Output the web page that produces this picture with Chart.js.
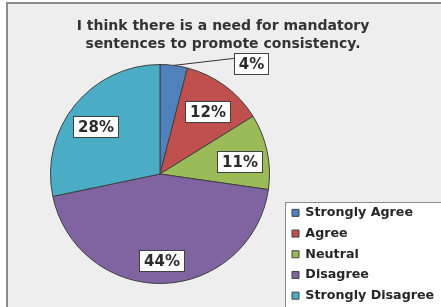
<!DOCTYPE html>
<html>
<head>
<meta charset="utf-8">
<script src="https://cdn.jsdelivr.net/npm/chart.js@4.4.1/dist/chart.umd.min.js"></script>
<style>
  html, body { margin: 0; padding: 0; background: #fff; overflow: hidden; }
  canvas { display: block; }
</style>
</head>
<body>
<!-- a few pixels taller than the window: the frame and legend box run off the bottom edge -->
<canvas id="myChart" width="441" height="310"></canvas>
<script>
// data for the chart
var categories = ['Strongly Agree', 'Agree', 'Neutral', 'Disagree', 'Strongly Disagree'];
var percents = [4, 12, 11, 44, 28];
var titleLines = ['I think there is a need for mandatory', 'sentences to promote consistency.'];
var sliceColors = ['#4f81bd', '#c0504d', '#9bbb59', '#8064a2', '#4bacc6'];

var FONT = '"DejaVu Sans", Verdana, sans-serif';

// grey frame and the white legend box, drawn behind everything
const backdrop = {
    id: 'backdrop',
    beforeDraw: function (chart) {
        var ctx = chart.ctx;
        var lg = chart.legend;
        ctx.save();
        ctx.fillStyle = '#ffffff';
        ctx.fillRect(0, 0, chart.width, chart.height);
        ctx.fillStyle = '#eeeeee';
        ctx.fillRect(7, 3, chart.width, chart.height);
        ctx.strokeStyle = '#8c8c8c';
        ctx.lineWidth = 2;
        ctx.strokeRect(7, 3, chart.width + 10, chart.height + 10);
        // box round the legend items (open to the right and bottom)
        var top = Math.round(lg.legendHitBoxes[0].top) - 4.5;
        var left = Math.round(lg.left) + 1.5;
        ctx.fillStyle = '#ffffff';
        ctx.fillRect(left, top, chart.width, chart.height);
        ctx.strokeStyle = '#8a8a8a';
        ctx.lineWidth = 1;
        ctx.strokeRect(left, top, chart.width, chart.height);
        ctx.restore();
    }
};

// move the pie to the right inside its area (title stays centred on the frame)
const shiftArea = {
    id: 'shiftArea',
    afterLayout: function (chart, args, opts) {
        chart.chartArea.left += opts.left;
        chart.chartArea.width = chart.chartArea.right - chart.chartArea.left;
    }
};

// boxed percentage labels
const sliceLabels = {
    id: 'sliceLabels',
    afterDatasetsDraw: function (chart) {
        var ctx = chart.ctx;
        var meta = chart.getDatasetMeta(0);
        var total = percents.reduce(function (a, b) { return a + b; }, 0);
        ctx.save();
        ctx.font = 'bold 15px ' + FONT;
        ctx.textAlign = 'center';
        ctx.textBaseline = 'middle';
        meta.data.forEach(function (arc, i) {
            var p = arc.getProps(['x', 'y', 'startAngle', 'endAngle', 'outerRadius'], true);
            var mid = (p.startAngle + p.endAngle) / 2;
            var text = percents[i] + '%';
            var w = Math.round(ctx.measureText(text).width + 9);
            var h = 21;
            var cx, cy;
            if (percents[i] / total < 0.06) {
                // small slice: label outside with a leader line
                var ex = p.x + Math.cos(mid) * p.outerRadius;
                var ey = p.y + Math.sin(mid) * p.outerRadius;
                cx = ex + 60 + w / 2;
                cy = ey - 2;
                ctx.strokeStyle = '#333333';
                ctx.lineWidth = 1;
                ctx.beginPath();
                ctx.moveTo(ex, ey);
                ctx.lineTo(cx - w / 2, cy - 5);
                ctx.stroke();
            } else {
                cx = p.x + Math.cos(mid) * p.outerRadius * 0.75 - 1;
                cy = p.y + Math.sin(mid) * p.outerRadius * 0.75 + 4;
            }
            var bx = Math.round(cx - w / 2) + 0.5;
            var by = Math.round(cy - h / 2) + 0.5;
            ctx.fillStyle = '#ffffff';
            ctx.fillRect(bx, by, w, h);
            ctx.strokeStyle = '#404040';
            ctx.strokeRect(bx, by, w, h);
            ctx.fillStyle = '#2b2b2b';
            ctx.fillText(text, bx + w / 2, by + h / 2 + 1);
        });
        ctx.restore();
    }
};

const data = {
    labels: categories,
    datasets: [{
        data: percents,
        backgroundColor: sliceColors,
        borderColor: '#404040',
        borderWidth: 1
    }]
};

const config = {
    type: 'pie',
    data: data,
    options: {
        responsive: false,
        animation: false,
        radius: 109.5,
        layout: {
            padding: { left: 5, right: 0, top: 0, bottom: 0 }
        },
        plugins: {
            title: {
                display: true,
                text: titleLines,
                color: '#333333',
                font: { family: FONT, size: 14, weight: 'bold', lineHeight: 1.286 },
                padding: { top: 17.5, bottom: -15.5 }
            },
            legend: {
                position: 'right',
                align: 'end',
                maxWidth: 157,
                labels: {
                    boxWidth: 7,
                    boxHeight: 7,
                    padding: 8,
                    color: '#262626',
                    font: { family: FONT, size: 12.7, weight: 'bold' }
                }
            },
            tooltip: { enabled: false },
            shiftArea: { left: 31 }
        }
    },
    plugins: [backdrop, shiftArea, sliceLabels]
};

const myChart = new Chart(document.getElementById('myChart'), config);
</script>
</body>
</html>
